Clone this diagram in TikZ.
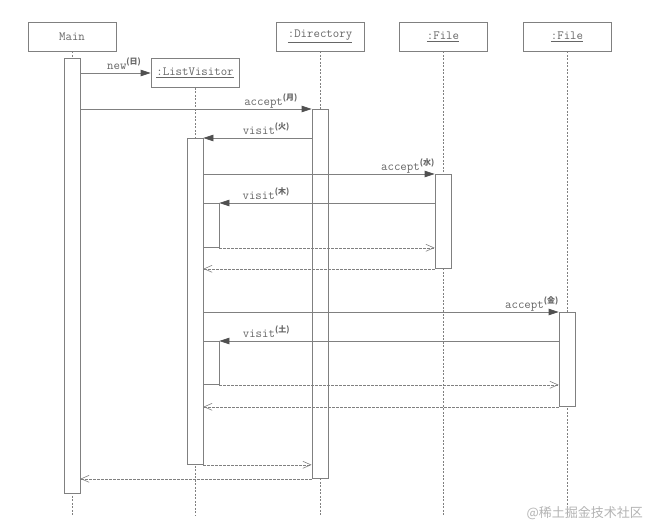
\documentclass[tikz,border=0pt]{standalone}
\usepackage{fontspec}
\newfontfamily\cjk{Noto Sans CJK JP}
\usetikzlibrary{arrows.meta}
\definecolor{linecol}{HTML}{808080}
\definecolor{tipcol}{HTML}{505050}
\definecolor{textcol}{HTML}{666666}
\definecolor{markcol}{HTML}{B4B4B4}
\newcommand{\wday}[1]{\raisebox{5pt}{\cjk\bfseries\fontsize{8}{9}\selectfont(#1)}}

\begin{document}
\begin{tikzpicture}[x=1pt,y=-1pt,
        head/.style={draw=linecol,line width=0.8pt,fill=white,minimum width=88pt,minimum height=29pt,
          inner sep=0pt,font=\ttfamily\fontsize{12.5}{14}\selectfont,text=textcol},
        act/.style={draw=linecol,line width=0.8pt,fill=white,minimum width=16pt,inner sep=0pt,anchor=north},
        life/.style={linecol,line width=0.6pt,dash pattern=on 2pt off 1.5pt},
        call/.style={-{Triangle[length=10pt,width=6.5pt,color=tipcol]},linecol,line width=0.8pt},
        ret/.style={-{Straight Barb[length=8pt,width=7pt]},linecol,line width=0.6pt,dash pattern=on 2.5pt off 1.5pt},
        lbl/.style={font=\ttfamily\fontsize{12.5}{14}\selectfont,text=textcol,inner sep=0pt,yshift=4pt}]
        \fill[white](0,0) rectangle (666,531);
        \useasboundingbox(0,0) rectangle (666,531);
        \coordinate(bot) at (0,515);
        % heads
        \node[head](main) at (72,36.5){Main};
        \node[head](lv) at (195,73){\underline{:ListVisitor}};
        \node[head](dir) at (320,36.5){\underline{:Directory}};
        \node[head](f1) at (443,36.5){\underline{:File}};
        \node[head](f2) at (567,36.5){\underline{:File}};
        \foreach \n in {main,lv,dir,f1,f2} \draw[life](\n.south)--(\n.south |- bot);
        % activations
        \node[act,minimum height=435pt](actMain) at (72,58){};
        \node[act,minimum height=369pt](actDir) at (320,109){};
        \node[act,minimum height=326pt](actLV) at (195,138){};
        \node[act,minimum height=94pt](actF1) at (443,174){};
        \node[act,minimum height=44pt](actLV1) at (211,203){};
        \node[act,minimum height=94pt](actF2) at (567,312){};
        \node[act,minimum height=43pt](actLV2) at (211,341){};
        % messages
        \draw[call](actMain.east |- lv.west)--(lv.west) node[lbl,pos=0.375,anchor=base west]{new\wday{日}};
        \draw[call](actMain.east |- actDir.north)--(actDir.north west) node[lbl,pos=0.94,anchor=base east]{accept\wday{月}};
        \draw[call](actDir.west |- actLV.north)--(actLV.north east) node[lbl,pos=0.64,anchor=base west]{visit\wday{火}};
        \draw[call](actLV.east |- actF1.north)--(actF1.north west) node[lbl,pos=1,anchor=base east]{accept\wday{水}};
        \draw[call](actF1.west |- actLV1.north)--(actLV1.north east) node[lbl,pos=0.894,anchor=base west]{visit\wday{木}};
        \draw[ret](actLV1.south east)--(actF1.west |- actLV1.south);
        \draw[ret](actF1.south west)--(actLV.east |- actF1.south);
        \draw[call](actLV.east |- actF2.north)--(actF2.north west) node[lbl,pos=1,anchor=base east]{accept\wday{金}};
        \draw[call](actF2.west |- actLV2.north)--(actLV2.north east) node[lbl,pos=0.932,anchor=base west]{visit\wday{土}};
        \draw[ret](actLV2.south east)--(actF2.west |- actLV2.south);
        \draw[ret](actF2.south west)--(actLV.east |- actF2.south);
        \draw[ret](actLV.south east)--(actDir.west |- actLV.south);
        \draw[ret](actDir.south west)--(actMain.east |- actDir.south);
        \node[font=\cjk\fontsize{13}{15}\selectfont,text=markcol,anchor=west](mark) at (523,513){@稀土掘金技术社区};
      \end{tikzpicture}
\end{document}
